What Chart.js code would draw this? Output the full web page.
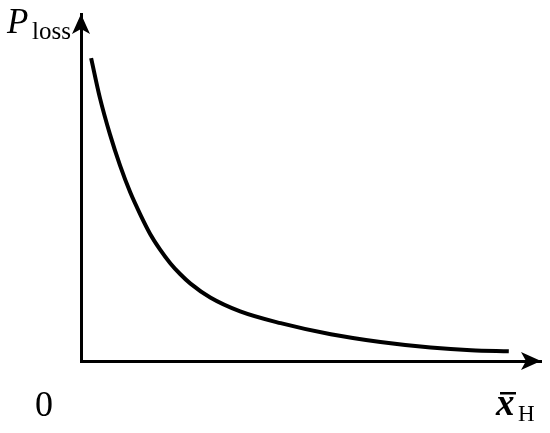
<!DOCTYPE html>
<html>
<head>
<meta charset="utf-8">
<script src="https://cdn.jsdelivr.net/npm/chart.js@4"></script>
<style>
  html, body { margin: 0; padding: 0; background: #fff; }
  #wrap { width: 550px; height: 433px; }
</style>
</head>
<body>
<div id="wrap"><canvas id="lossChart"></canvas></div>
<script>
// values (arbitrary units, axis 0..10)
const xH = [0.22, 0.41, 0.63, 0.85, 1.07, 1.29, 1.50, 1.72, 1.94, 2.16, 2.38, 2.81, 3.46, 4.34, 5.43, 6.51, 7.60, 8.48, 9.30];
const pLoss = [8.73, 7.59, 6.53, 5.63, 4.86, 4.22, 3.67, 3.21, 2.82, 2.50, 2.23, 1.83, 1.43, 1.09, 0.77, 0.55, 0.39, 0.31, 0.28];
const originLabel = '0';

const points = xH.map((x, i) => ({ x: x, y: pLoss[i] }));

// arrows and axis labels
const axisDecor = {
  id: 'axisDecor',
  afterDraw(chart) {
    const ctx = chart.ctx;
    const a = chart.chartArea;
    ctx.save();
    ctx.fillStyle = '#000';
    // up arrow
    ctx.beginPath();
    ctx.moveTo(a.left, a.top);
    ctx.lineTo(a.left - 9, a.top + 20);
    ctx.lineTo(a.left, a.top + 15);
    ctx.lineTo(a.left + 9, a.top + 20);
    ctx.closePath();
    ctx.fill();
    // right arrow
    ctx.beginPath();
    ctx.moveTo(a.right, a.bottom);
    ctx.lineTo(a.right - 20, a.bottom - 9);
    ctx.lineTo(a.right - 15, a.bottom);
    ctx.lineTo(a.right - 20, a.bottom + 9);
    ctx.closePath();
    ctx.fill();

    ctx.textBaseline = 'alphabetic';
    ctx.font = 'italic 35px "Liberation Serif", "DejaVu Serif", serif';
    ctx.fillText('P', 7, 33);
    ctx.font = '25px "Liberation Serif", "DejaVu Serif", serif';
    ctx.fillText('loss', 32, 39);

    ctx.font = '36px "Liberation Serif", "DejaVu Serif", serif';
    ctx.fillText(originLabel, 35, 416);

    ctx.font = 'bold italic 37px "Liberation Serif", "DejaVu Serif", serif';
    ctx.fillText('x', 496, 415);
    ctx.fillRect(500, 392, 16, 2.5);
    ctx.font = '23px "Liberation Serif", "DejaVu Serif", serif';
    ctx.fillText('H', 518, 421);
    ctx.restore();
  }
};

new Chart(document.getElementById('lossChart'), {
  type: 'scatter',
  data: {
    datasets: [{
      data: points,
      showLine: true,
      borderColor: '#000',
      borderWidth: 4,
      pointRadius: 0,
      cubicInterpolationMode: 'monotone',
      fill: false
    }]
  },
  options: {
    responsive: true,
    maintainAspectRatio: false,
    animation: false,
    layout: { padding: { left: 81, top: 14, right: 9, bottom: 72 } },
    plugins: { legend: { display: false }, tooltip: { enabled: false } },
    scales: {
      x: {
        type: 'linear', min: 0, max: 10,
        grid: { display: false, drawTicks: false },
        ticks: { display: false },
        border: { display: true, color: '#000', width: 3 }
      },
      y: {
        type: 'linear', min: 0, max: 10,
        grid: { display: false, drawTicks: false },
        ticks: { display: false },
        border: { display: true, color: '#000', width: 3 }
      }
    }
  },
  plugins: [axisDecor]
});
</script>
</body>
</html>
